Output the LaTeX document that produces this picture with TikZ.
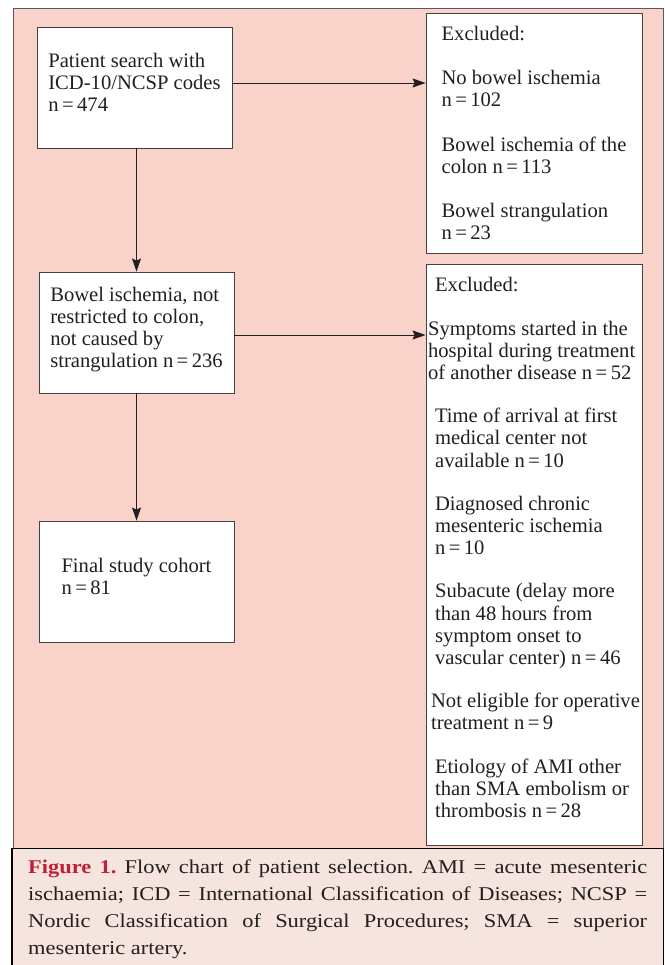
\documentclass[tikz,border=0pt]{standalone}
\usepackage{fontspec}
\setmainfont{Liberation Serif}
\newfontfamily\capfont[FakeStretch=1.15]{Liberation Serif}
\usetikzlibrary{arrows.meta}

\definecolor{chartbg}{RGB}{249,210,201}
\definecolor{capbg}{RGB}{246,228,223}
\definecolor{figred}{RGB}{190,32,58}
\definecolor{ink}{RGB}{35,31,32}
\newcommand{\exind}{\hspace*{7pt}}
\newcommand{\lowpad}[1]{\rule[-#1]{0pt}{0pt}}

\begin{document}
\begin{tikzpicture}[
    x=1pt, y=1pt,
    node distance=245pt,
    box/.style={rectangle, draw=ink!85, fill=white, line width=0.9pt, minimum width=195pt, minimum height=121pt, align=left, text=ink, font=\fontsize{20.6}{22.2}\selectfont, inner sep=0pt},
    exbox/.style={box, minimum width=216pt},
    arrow/.style={-{Stealth[length=13pt, width=9pt, inset=2pt]}, line width=0.9pt, draw=ink}
]
\useasboundingbox (0,0) rectangle (664,-965);

% Background panel and caption panel
\fill[chartbg] (13,-8) rectangle (663,-848);
\draw[gray!70!black, line width=0.6pt] (13,-848) |- (663,-8) -- (663,-848);
\fill[capbg] (12,-848) rectangle (664,-965);
\draw[black, line width=0.8pt] (12,-848) -- (663,-848) -- (663,-965);
\draw[black, line width=1.6pt] (12,-848) -- (12,-965);

% Left column: selection steps
\node[box] (search) at (134.5,-87.5) {Patient search with\\ICD-10/NCSP codes\\n\,=\,474\lowpad{10pt}};
\node[box, below of=search, xshift=2pt] (ischemia) {Bowel ischemia, not\\restricted to colon,\\not caused by\\strangulation n\,=\,236\lowpad{10pt}};
\node[box, below of=ischemia, yshift=-4pt] (cohort) {Final study cohort\\n\,=\,81\lowpad{10pt}};

% Right column: exclusions
\node[exbox, minimum height=240pt, right of=search, xshift=154.5pt, yshift=-45.5pt] (excl-a) {Excluded:\\[22pt]No bowel ischemia\\n\,=\,102\\[22pt]Bowel ischemia of the\\colon n\,=\,113\\[22pt]Bowel strangulation\\n\,=\,23};
\node[exbox, minimum height=581pt, below of=excl-a, yshift=-176.5pt] (excl-b) {\exind Excluded:\\[21pt]Symptoms started in the\\hospital during treatment\\of another disease n\,=\,52\\[21pt]\exind Time of arrival at first\\\exind medical center not\\\exind available n\,=\,10\\[21pt]\exind Diagnosed chronic\\\exind mesenteric ischemia\\\exind n\,=\,10\\[21pt]\exind Subacute (delay more\\\exind than 48 hours from\\\exind symptom onset to\\\exind vascular center) n\,=\,46\\[21pt]\hspace*{3pt}Not eligible for operative\\\hspace*{3pt}treatment n\,=\,9\\[21pt]\exind Etiology of AMI other\\\exind than SMA embolism or\\\exind thrombosis n\,=\,28\lowpad{14pt}};

% Arrows
\draw[arrow] ([yshift=4.5pt]search.east) -- ([yshift=4.5pt]search.east -| excl-a.west);
\draw[arrow] (search.south -| ischemia.north) -- (ischemia.north);
\draw[arrow] ([yshift=-2.5pt]ischemia.east) -- ([yshift=-2.5pt]ischemia.east -| excl-b.west);
\draw[arrow] (ischemia) -- (cohort);

% Caption
\node[anchor=north west, text width=619pt, align=justify, inner sep=0pt, text=ink, font=\capfont\fontsize{19.5}{27}\selectfont\frenchspacing] (caption) at (28,-860) {\textcolor{figred}{\textbf{Figure 1.}} Flow chart of patient selection. AMI = acute mesenteric\linebreak ischaemia; ICD = International Classification of Diseases; NCSP =\linebreak Nordic Classification of Surgical Procedures; SMA = superior\linebreak mesenteric artery.};

\end{tikzpicture}
\end{document}
